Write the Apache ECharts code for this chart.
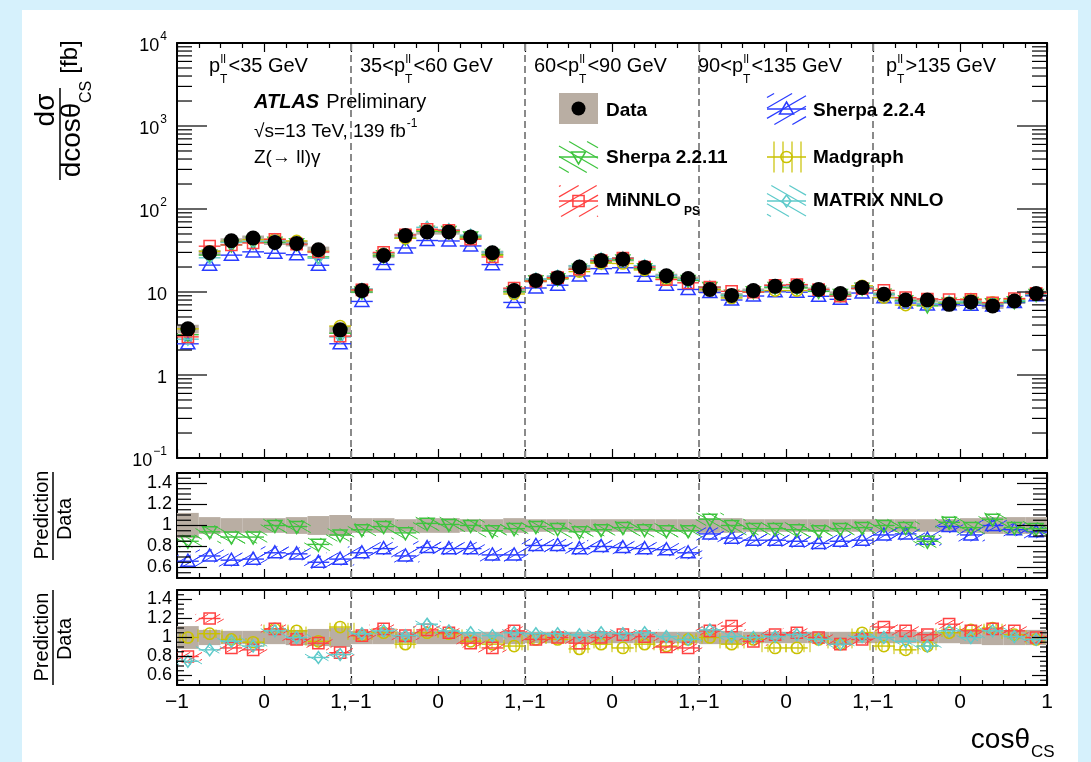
<!DOCTYPE html>
<html><head><meta charset="utf-8">
<script src="https://cdn.jsdelivr.net/npm/echarts@6/dist/echarts.min.js"></script>
<style>
html,body{margin:0;padding:0;background:#d6f1fc;overflow:hidden;}
#frame{position:absolute;left:22px;top:10px;width:1056px;height:752px;background:#fff;}
#chart{position:absolute;left:0;top:0;width:1091px;height:762px;}
</style></head><body>
<div id="frame"></div>
<div id="chart"></div>
<script>
// ---------------- data ----------------
const NBINS = 40;                       // 5 pT bins x 8 cos(theta_CS) bins
const ptBoundaries = [8, 16, 24, 32];   // bin index where a new pT slice starts
const cosThetaTickLabels = ['\u22121','0','1,\u22121','0','1,\u22121','0','1,\u22121','0','1,\u22121','0','1'];
const ptBinLabels = [
  {pre:'',    post:'<35 GeV'},
  {pre:'35<', post:'<60 GeV'},
  {pre:'60<', post:'<90 GeV'},
  {pre:'90<', post:'<135 GeV'},
  {pre:'',    post:'>135 GeV'}
];
const xsecData = [
  3.6, 29.7, 41.5, 44.8, 39.6, 38.5, 32.3, 3.5,
  10.4, 27.5, 47.8, 52.8, 52.8, 46.0, 29.7, 10.4,
  13.8, 14.9, 20.0, 23.9, 24.8, 19.8, 15.7, 14.5,
  10.7, 9.1, 10.4, 11.7, 11.7, 10.7, 9.6, 11.3,
  9.4, 8.0, 8.0, 7.1, 7.6, 6.8, 7.8, 9.6
];
const dataRelUnc = [
  0.12, 0.08, 0.07, 0.07, 0.07, 0.08, 0.09, 0.10,
  0.07, 0.07, 0.06, 0.07, 0.07, 0.06, 0.06, 0.07,
  0.06, 0.06, 0.06, 0.06, 0.06, 0.06, 0.06, 0.06,
  0.07, 0.07, 0.06, 0.06, 0.06, 0.06, 0.06, 0.06,
  0.06, 0.06, 0.06, 0.06, 0.07, 0.08, 0.08, 0.08
];
const ratioSherpa224 = [
  0.66, 0.71, 0.67, 0.68, 0.74, 0.73, 0.65, 0.68,
  0.74, 0.78, 0.71, 0.79, 0.78, 0.78, 0.72, 0.72,
  0.81, 0.81, 0.78, 0.80, 0.79, 0.78, 0.77, 0.74,
  0.92, 0.88, 0.86, 0.86, 0.85, 0.83, 0.85, 0.86,
  0.91, 0.92, 0.87, 0.99, 0.91, 1.00, 0.96, 0.94
];
const ratioSherpa2211 = [
  0.85, 0.94, 0.89, 0.89, 1.00, 0.99, 0.82, 0.91,
  0.96, 0.99, 0.93, 1.02, 1.01, 1.00, 0.95, 0.97,
  0.99, 0.97, 0.94, 0.96, 0.98, 0.96, 0.95, 0.95,
  1.06, 1.00, 0.97, 0.97, 0.96, 0.95, 0.97, 0.98,
  1.00, 0.98, 0.85, 1.03, 0.98, 1.06, 0.98, 0.97
];
const ratioMiNNLO = [
  0.80, 1.20, 0.89, 0.87, 1.09, 0.98, 0.94, 0.84,
  1.02, 1.09, 1.02, 1.08, 1.05, 0.94, 0.89, 1.07,
  0.98, 1.00, 0.94, 1.00, 1.03, 1.01, 0.90, 0.89,
  1.07, 1.12, 0.96, 1.03, 1.05, 1.00, 0.93, 0.98,
  1.11, 1.07, 1.03, 1.14, 1.07, 1.09, 1.07, 1.00
];
const ratioMadgraph = [
  1.00, 1.04, 0.98, 0.95, 1.09, 1.07, 0.96, 1.11,
  1.02, 1.05, 0.93, 1.05, 1.04, 0.96, 0.93, 0.91,
  0.98, 0.98, 0.88, 0.93, 0.89, 0.93, 0.91, 0.98,
  1.00, 0.93, 0.98, 0.89, 0.89, 0.98, 0.93, 1.05,
  0.91, 0.87, 0.91, 1.05, 1.08, 1.10, 1.03, 0.98
];
const ratioMatrix = [
  0.75, 0.87, 0.96, 0.91, 1.07, 1.00, 0.79, 0.82,
  1.04, 1.07, 1.02, 1.14, 1.07, 1.05, 1.02, 1.05,
  1.04, 1.04, 1.03, 1.05, 1.04, 1.05, 1.01, 0.98,
  1.08, 1.01, 1.00, 1.01, 1.03, 0.98, 0.93, 1.01,
  1.00, 0.96, 0.91, 1.07, 1.00, 1.07, 1.01, 0.98
];
const predRelUnc = {sherpa224:0.06, sherpa2211:0.06, minnlo:0.045, madgraph:0.045, matrix:0.035};

// ---------------- styles ----------------
const FAM = '"Liberation Sans", Arial, Helvetica, sans-serif';
const BAND = '#b9aea3';
const MODELS = {
  sherpa224:  {name:'Sherpa 2.2.4',  ratio:ratioSherpa224,  color:'#2a3cff', marker:'tu', hatch:30},
  sherpa2211: {name:'Sherpa 2.2.11', ratio:ratioSherpa2211, color:'#3ec43e', marker:'td', hatch:-30},
  minnlo:     {name:'MiNNLO_PS',     ratio:ratioMiNNLO,     color:'#ff4242', marker:'sq', hatch:30},
  madgraph:   {name:'Madgraph',      ratio:ratioMadgraph,   color:'#c9c100', marker:'ci', hatch:90},
  matrix:     {name:'MATRIX NNLO',   ratio:ratioMatrix,     color:'#5ecaca', marker:'di', hatch:-30}
};

// ---------------- helpers ----------------
function hatch(xa, ya, xb, yb, angDeg, sp) {
  const x0 = Math.min(xa, xb), x1 = Math.max(xa, xb), y0 = Math.min(ya, yb), y1 = Math.max(ya, yb);
  const a = angDeg * Math.PI / 180, dx = Math.cos(a), dy = -Math.sin(a), nx = -dy, ny = dx;
  const cs = [x0*nx + y0*ny, x1*nx + y0*ny, x0*nx + y1*ny, x1*nx + y1*ny];
  const cmin = Math.min.apply(null, cs), cmax = Math.max.apply(null, cs);
  const segs = [];
  for (let c = Math.ceil(cmin / sp) * sp; c <= cmax; c += sp) {
    const px = nx * c, py = ny * c;
    let tmin = -1e9, tmax = 1e9, ok = true;
    [[dx, px, x0, x1], [dy, py, y0, y1]].forEach(function (q) {
      if (Math.abs(q[0]) > 1e-9) {
        let t1 = (q[2] - q[1]) / q[0], t2 = (q[3] - q[1]) / q[0];
        if (t1 > t2) { const t = t1; t1 = t2; t2 = t; }
        tmin = Math.max(tmin, t1); tmax = Math.min(tmax, t2);
      } else if (q[1] < q[2] || q[1] > q[3]) ok = false;
    });
    if (ok && tmax > tmin + 0.5) segs.push([px + dx*tmin, py + dy*tmin, px + dx*tmax, py + dy*tmax]);
  }
  return segs;
}
function markerEl(kind, cx, cy, r, color, lw) {
  const st = {fill:'none', stroke:color, lineWidth:lw};
  switch (kind) {
    case 'tu': return {type:'polygon', shape:{points:[[cx, cy - r], [cx + r, cy + r*0.72], [cx - r, cy + r*0.72]]}, style:st};
    case 'td': return {type:'polygon', shape:{points:[[cx, cy + r], [cx + r, cy - r*0.72], [cx - r, cy - r*0.72]]}, style:st};
    case 'sq': return {type:'rect', shape:{x:cx - r*0.8, y:cy - r*0.8, width:1.6*r, height:1.6*r}, style:st};
    case 'ci': return {type:'circle', shape:{cx:cx, cy:cy, r:r*0.8}, style:st};
    default:   return {type:'polygon', shape:{points:[[cx, cy - r*0.85], [cx + r*0.62, cy], [cx, cy + r*0.85], [cx - r*0.62, cy]]}, style:st};
  }
}
function lineEl(x1, y1, x2, y2, color, w, dash) {
  const st = {stroke:color, lineWidth:w};
  if (dash) st.lineDash = dash;
  return {type:'line', shape:{x1:x1, y1:y1, x2:x2, y2:y2}, style:st};
}
const mctx = document.createElement('canvas').getContext('2d');
function tw(t, size, weight, style) {
  mctx.font = (style || 'normal') + ' ' + (weight || 'normal') + ' ' + size + 'px ' + FAM;
  return mctx.measureText(t).width;
}
function T(text, x, y, size, o) {
  o = o || {};
  return {type:'text', x:x, y:y, rotation:o.rot || 0, z:100, silent:true,
    style:{text:text, fontSize:size, fontFamily:FAM, fontWeight:o.w || 'normal', fontStyle:o.it || 'normal',
      fill:'#000', align:o.align || 'left', verticalAlign:o.va || 'middle'}};
}

// ---------------- render functions ----------------
function modelRender(m, withHatch, unc) {
  return function (params, api) {
    const i = api.value(0), v = api.value(1);
    const L = api.coord([i, v]), R = api.coord([i + 1, v]);
    const cx = (L[0] + R[0]) / 2, cy = L[1];
    const ch = [];
    if (withHatch) {
      const lo = api.coord([i - 0.15, v - unc]), hi = api.coord([i + 1.15, v + unc]);
      hatch(lo[0], lo[1], hi[0], hi[1], m.hatch, 6).forEach(function (s) {
        ch.push(lineEl(s[0], s[1], s[2], s[3], m.color, 1));
      });
    }
    ch.push(lineEl(L[0], cy, R[0], cy, m.color, 1.4));
    ch.push(markerEl(m.marker, cx, cy, 7, m.color, 1.5));
    return {type:'group', children:ch};
  };
}
function bandMainRender(params, api) {
  const i = api.value(0), v = api.value(1), e = api.value(2);
  const lo = api.coord([i, v * (1 - e)]), hi = api.coord([i + 1, v * (1 + e)]);
  return {type:'rect', shape:{x:lo[0], y:hi[1], width:hi[0] - lo[0], height:lo[1] - hi[1]}, style:{fill:BAND}};
}
function dotRender(params, api) {
  const c = api.coord([api.value(0) + 0.5, api.value(1)]);
  return {type:'circle', shape:{cx:c[0], cy:c[1], r:7.5}, style:{fill:'#000'}};
}
function bandRatioRender(params, api) {
  const i = api.value(0), e = api.value(1);
  const lo = api.coord([i, 1 - e]), hi = api.coord([i + 1, 1 + e]);
  return {type:'rect', shape:{x:lo[0], y:hi[1], width:hi[0] - lo[0], height:lo[1] - hi[1]}, style:{fill:BAND}};
}
function sepRender(yMin, yMax) {
  return function (params, api) {
    const x = api.value(0);
    const a = api.coord([x, yMin]), b = api.coord([x, yMax]);
    return lineEl(a[0], a[1], b[0], b[1], '#8a8a8a', 2, [7, 4]);
  };
}
function logTicksRender(params, api) {
  const ch = [];
  for (let k = -1; k <= 4; k++) {
    for (let m = 1; m <= 9; m++) {
      const v = m * Math.pow(10, k);
      if (v > 10000.001) break;
      const len = m === 1 ? 30 : 15;
      const l = api.coord([0, v]), r = api.coord([NBINS, v]);
      ch.push(lineEl(l[0], l[1], l[0] + len, l[1], '#000', 1.2));
      ch.push(lineEl(r[0], r[1], r[0] - len, r[1], '#000', 1.2));
    }
  }
  return {type:'group', children:ch};
}
function ratioTicksRender(major, minor) {
  return function (params, api) {
    const ch = [];
    for (let k = 10; k <= 30; k++) {
      const v = k / 20, len = (k % 4 === 0) ? major : minor;
      const l = api.coord([0, v]), r = api.coord([NBINS, v]);
      ch.push(lineEl(l[0], l[1], l[0] + len, l[1], '#000', 1.2));
      ch.push(lineEl(r[0], r[1], r[0] - len, r[1], '#000', 1.2));
    }
    return {type:'group', children:ch};
  };
}

// ---------------- axes ----------------
const GRIDS = [
  {left:177, top:43, width:870, height:415},
  {left:177, top:473, width:870, height:105},
  {left:177, top:590, width:870, height:95}
];
const AXLINE = {show:true, onZero:false, lineStyle:{color:'#000', width:2}};
function xAx(g, pos, labels) {
  return {type:'value', gridIndex:g, position:pos, min:0, max:NBINS, interval:4,
    axisLine:AXLINE,
    axisTick:{show:true, inside:true, length:9, lineStyle:{color:'#000', width:1.2}},
    minorTick:{show:true, splitNumber:4, length:5, lineStyle:{color:'#000', width:1.2}},
    splitLine:{show:false}, minorSplitLine:{show:false},
    axisLabel:{show:labels, fontSize:21, fontFamily:FAM, color:'#000', margin:7, showMinLabel:true, showMaxLabel:true,
      formatter:function (v) { const s = cosThetaTickLabels[Math.round(v / 4)]; return s === undefined ? '' : s; }}};
}
function logLabel(v) {
  const e = Math.round(Math.log10(v));
  if (e === 0) return '{b|1}';
  if (e === 1) return '{b|10}';
  return '{b|10}{s|' + (e < 0 ? '\u2212' : '') + Math.abs(e) + '}';
}
function yLog(pos, labels) {
  return {type:'log', logBase:10, gridIndex:0, position:pos, min:0.1, max:10000, splitNumber:5,
    axisLine:AXLINE, axisTick:{show:false}, minorTick:{show:false}, splitLine:{show:false},
    axisLabel:{show:labels, margin:10, color:'#000', formatter:logLabel,
      rich:{b:{fontSize:18, fontFamily:FAM, color:'#000', lineHeight:24, verticalAlign:'bottom'},
            s:{fontSize:12, fontFamily:FAM, color:'#000', lineHeight:24, verticalAlign:'top', padding:[0,0,0,1]}}}};
}
function ratioLabel(v) {
  const k = Math.round(v * 10);
  if (k % 2 !== 0 || k < 6 || k > 14) return '';
  return k === 10 ? '1' : (k / 10).toFixed(1);
}
function yRatio(g, pos, labels) {
  return {type:'value', gridIndex:g, position:pos, min:0.5, max:1.5, interval:0.1,
    axisLine:AXLINE, axisTick:{show:false}, minorTick:{show:false}, splitLine:{show:false},
    axisLabel:{show:labels, margin:5, fontSize:18, fontFamily:FAM, color:'#000', formatter:ratioLabel,
      showMinLabel:true, showMaxLabel:true}};
}

// ---------------- series ----------------
const bins = xsecData.map(function (v, i) { return i; });
const series = [];
function S(o) { o.silent = true; o.animation = false; series.push(o); }
// main panel
S({type:'custom', name:'Data uncertainty', xAxisIndex:0, yAxisIndex:0, clip:true, renderItem:bandMainRender,
   data:bins.map(function (i) { return [i, xsecData[i], dataRelUnc[i]]; }), z:2});
['sherpa224', 'sherpa2211', 'madgraph', 'matrix', 'minnlo'].forEach(function (key, n) {
  const m = MODELS[key];
  S({type:'custom', name:m.name, xAxisIndex:0, yAxisIndex:0, clip:true, renderItem:modelRender(m, false, 0),
     data:bins.map(function (i) { return [i, xsecData[i] * m.ratio[i]]; }), z:3 + n});
});
S({type:'custom', name:'Data', xAxisIndex:0, yAxisIndex:0, clip:true, renderItem:dotRender,
   data:bins.map(function (i) { return [i, xsecData[i]]; }), z:10});
S({type:'custom', name:'sep0', xAxisIndex:0, yAxisIndex:0, clip:false, renderItem:sepRender(0.1, 10000),
   data:ptBoundaries.map(function (b) { return [b, 1]; }), z:1});
S({type:'custom', name:'ticks0', xAxisIndex:0, yAxisIndex:0, clip:false, renderItem:logTicksRender, data:[[0, 1]], z:11});
// ratio panels
[[1, ['sherpa224', 'sherpa2211'], 30, 14], [2, ['madgraph', 'minnlo', 'matrix'], 15, 7]].forEach(function (p) {
  const g = p[0];
  S({type:'custom', name:'Data uncertainty ' + g, xAxisIndex:2*g, yAxisIndex:2*g, clip:true, renderItem:bandRatioRender,
     data:bins.map(function (i) { return [i, dataRelUnc[i]]; }), z:2});
  p[1].forEach(function (key, n) {
    const m = MODELS[key];
    S({type:'custom', name:m.name + ' ratio', xAxisIndex:2*g, yAxisIndex:2*g, clip:true,
       renderItem:modelRender(m, true, predRelUnc[key]),
       data:bins.map(function (i) { return [i, m.ratio[i]]; }), z:3 + n});
  });
  S({type:'custom', name:'sep' + g, xAxisIndex:2*g, yAxisIndex:2*g, clip:false, renderItem:sepRender(0.5, 1.5),
     data:ptBoundaries.map(function (b) { return [b, 1]; }), z:1});
  S({type:'custom', name:'ticks' + g, xAxisIndex:2*g, yAxisIndex:2*g, clip:false, renderItem:ratioTicksRender(p[2], p[3]),
     data:[[0, 1]], z:11});
});

// ---------------- text / legend graphics ----------------
const G = [];
// pT slice labels
const ptX = [209, 360, 534, 698, 886];
ptBinLabels.forEach(function (lab, k) {
  let cx = ptX[k]; const y = 66;
  if (lab.pre) { G.push(T(lab.pre, cx, y, 20)); cx += tw(lab.pre, 20); }
  G.push(T('p', cx, y, 20)); cx += tw('p', 20);
  G.push(T('ll', cx + 0.5, y - 6, 12)); G.push(T('T', cx, y + 14, 12));
  cx += Math.max(tw('ll', 12), tw('T', 12)) + 1;
  G.push(T(lab.post, cx, y, 20));
});
// ATLAS block
G.push(T('ATLAS', 254, 102, 20, {w:'bold', it:'italic'}));
G.push(T('Preliminary', 254 + tw('ATLAS', 20, 'bold', 'italic') + 7, 102, 20));
G.push(T('\u221As=13 TeV, 139 fb', 254, 132, 19));
G.push(T('-1', 254 + tw('\u221As=13 TeV, 139 fb', 19) + 1, 124, 12));
G.push(T('Z(\u2192 ll)\u03B3', 254, 158, 19));
// legend
function legendSym(x0, yc, m) {
  const x1 = x0 + 39, y0 = yc - 15.5, y1 = yc + 15.5;
  hatch(x0, y0, x1, y1, m.hatch, 9).forEach(function (s) { G.push(lineEl(s[0], s[1], s[2], s[3], m.color, 1.2)); });
  G.push(lineEl(x0, yc, x1, yc, m.color, 1.4));
  G.push(markerEl(m.marker, x0 + 19.5, yc, 7, m.color, 1.5));
}
G.push({type:'rect', shape:{x:559, y:93, width:39, height:31}, style:{fill:BAND}, z:100});
G.push({type:'circle', shape:{cx:578.5, cy:108.5, r:7}, style:{fill:'#000'}, z:101});
G.push(T('Data', 606, 111, 19, {w:'bold'}));
legendSym(559, 157, MODELS.sherpa2211); G.push(T('Sherpa 2.2.11', 606, 158, 19, {w:'bold'}));
legendSym(559, 201, MODELS.minnlo);     G.push(T('MiNNLO', 606, 201, 19, {w:'bold'}));
G.push(T('PS', 606 + tw('MiNNLO', 19, 'bold') + 3, 212, 12, {w:'bold'}));
legendSym(767, 109, MODELS.sherpa224);  G.push(T('Sherpa 2.2.4', 813, 111, 19, {w:'bold'}));
legendSym(767, 157, MODELS.madgraph);   G.push(T('Madgraph', 813, 158, 19, {w:'bold'}));
legendSym(767, 201, MODELS.matrix);     G.push(T('MATRIX NNLO', 813, 201, 19, {w:'bold'}));
G.forEach(function (e) { if (e.z === undefined) e.z = 100; e.silent = true; });
// axis titles
const R90 = Math.PI / 2;
G.push(T('d\u03C3', 46, 110, 28, {rot:R90, align:'center'}));
G.push(Object.assign(lineEl(60, 88, 60, 180, '#000', 1.5), {z:100}));
G.push(T('dcos\u03B8', 72, 140, 28, {rot:R90, align:'center'}));
G.push(T('CS', 87, 92, 16, {rot:R90, align:'center'}));
G.push(T('[fb]', 70, 57, 24, {rot:R90, align:'center'}));
[[515, 472, 560, 519], [637, 590, 685, 639]].forEach(function (q) {
  G.push(T('Prediction', 42, q[0], 20, {rot:R90, align:'center'}));
  G.push(Object.assign(lineEl(53, q[1], 53, q[2], '#000', 1.5), {z:100}));
  G.push(T('Data', 65, q[3], 20, {rot:R90, align:'center'}));
});
G.push(T('cos\u03B8', 1030, 740, 28, {align:'right'}));
G.push(T('CS', 1031, 752, 17));

// ---------------- chart ----------------
const chart = echarts.init(document.getElementById('chart'), null, {renderer:'canvas'});
chart.setOption({
  backgroundColor:'transparent',
  animation:false,
  grid:GRIDS,
  xAxis:[xAx(0, 'bottom', false), xAx(0, 'top', false), xAx(1, 'bottom', false), xAx(1, 'top', false),
         xAx(2, 'bottom', true), xAx(2, 'top', false)],
  yAxis:[yLog('left', true), yLog('right', false), yRatio(1, 'left', true), yRatio(1, 'right', false),
         yRatio(2, 'left', true), yRatio(2, 'right', false)],
  series:series,
  graphic:{elements:G}
});
</script></body></html>
